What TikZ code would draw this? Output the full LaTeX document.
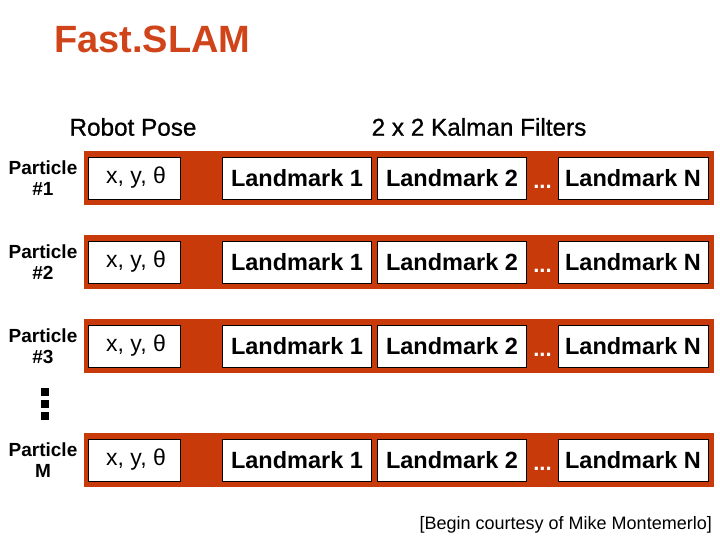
\documentclass[tikz,border=0pt]{standalone}
\usepackage{fontspec}
\setmainfont{Liberation Sans}
\definecolor{bar}{HTML}{C83A0A}
\definecolor{ttl}{HTML}{D0441A}
\begin{document}
\begin{tikzpicture}[x=1pt,y=-1pt,
  barbox/.style={fill=bar,draw=none,minimum width=630pt,minimum height=54pt,inner sep=0pt,anchor=north west},
  wbox/.style={fill=white,draw=black,line width=0.8pt,minimum height=42pt,inner sep=0pt},
  lm/.style={wbox,minimum width=149pt,font=\fontsize{23.5}{25}\selectfont\bfseries},
  pose/.style={wbox,minimum width=92pt,font=\fontsize{23}{25}\selectfont},
  plabel/.style={align=center,font=\fontsize{19}{21}\selectfont\bfseries,inner sep=0pt},
  dots/.style={text=white,font=\fontsize{22}{24}\selectfont\bfseries,inner sep=0pt},
  hdr/.style={font=\fontsize{24.3}{26}\selectfont,inner sep=0pt}]
\useasboundingbox (0,0) rectangle (720,540);
\node[text=ttl,font=\fontsize{38}{40}\selectfont\bfseries,anchor=west,inner sep=0pt] (title) at (54,39) {Fast.SLAM};
\node[hdr] (hpose) at (133,127) {\addfontfeature{FakeBold=0.8}Robot Pose};
\node[hdr] (hkal) at (479,127) {\addfontfeature{FakeBold=0.8}2 x 2 Kalman Filters};
\foreach \y/\lab/\n in {151/{Particle\\\#1}/a,235/{Particle\\\#2}/b,319/{Particle\\\#3}/c,433/{Particle\\M}/d}{
  \node[barbox] (bar\n) at (84,\y) {};
  \node[plabel] (pl\n) at (43,\y+27) {\lab};
  \node[pose] (pose\n) at (134,\y+27) {\raisebox{-2pt}{\hspace{4pt}x, y, θ}};
  \node[lm] (l1\n) at (297,\y+27) {Landmark 1};
  \node[lm] (l2\n) at (452,\y+27) {Landmark 2};
  \node[lm,minimum width=150pt] (ln\n) at (633,\y+27) {Landmark N};
  \node[dots] (dt\n) at (542.5,\y+36) {...};
}
\foreach \yy/\m in {392/p,404/q,416/r}{
  \fill (41,\yy-4) rectangle (49,\yy+4);
}
\node[font=\fontsize{18}{20}\selectfont,anchor=east,inner sep=0pt] (credit) at (712,525) {[Begin courtesy of Mike Montemerlo]};
\end{tikzpicture}
\end{document}
